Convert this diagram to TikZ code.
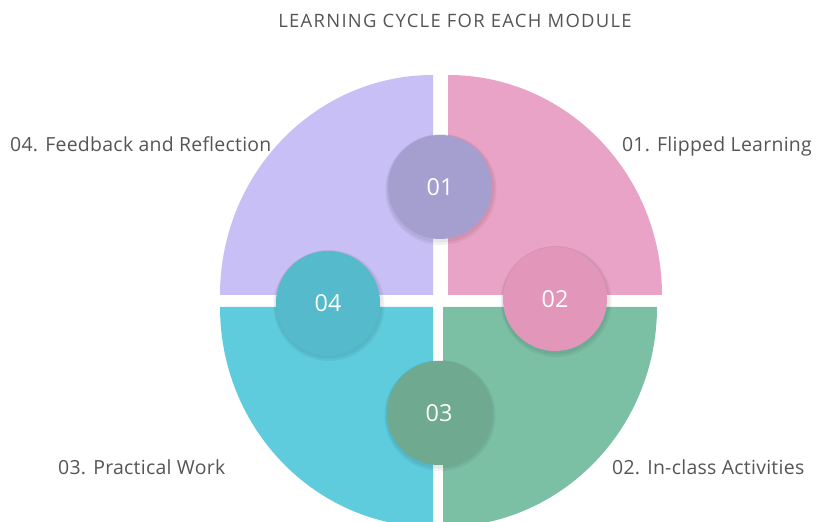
\documentclass[tikz,border=0pt]{standalone}
\usepackage{fontspec}
\setmainfont{Open Sans}
\definecolor{cpurple}{HTML}{C7BFF5}
\definecolor{cpink}{HTML}{E9A3C6}
\definecolor{ccyan}{HTML}{5ECCDD}
\definecolor{cgreen}{HTML}{7BBFA5}
\definecolor{dpurple}{HTML}{A59FD0}
\definecolor{dpink}{HTML}{E196BA}
\definecolor{dcyan}{HTML}{55BACB}
\definecolor{dgreen}{HTML}{6EA990}
\definecolor{txt}{HTML}{555555}
\begin{document}
\begin{tikzpicture}[x=1bp,y=1bp,
  label/.style={text=txt,font=\fontsize{19.5}{22}\selectfont\addfontfeature{LetterSpace=1.5},inner sep=0pt},
  num/.style={circle,minimum size=104bp,inner sep=0pt,text=white,font=\fontsize{23.5}{28}\selectfont},
  shadowc/.style={fill=black,opacity=0.05}]
\useasboundingbox (0,0) rectangle (816,522);
\begin{scope}
\clip (0,0) rectangle (816,522);
\fill[cpurple] (433,227) -- (433,447) arc[start angle=90,end angle=180,x radius=213,y radius=220] -- cycle;
\fill[cpink] (448,227) -- (662,227) arc[start angle=0,end angle=90,x radius=214,y radius=220] -- cycle;
\fill[ccyan] (433,215) -- (220,215) arc[start angle=180,end angle=270,x radius=213,y radius=220] -- cycle;
\fill[cgreen] (443,215) -- (443,-5) arc[start angle=270,end angle=360,x radius=214,y radius=220] -- cycle;
\foreach \p in {(440,335),(555,223),(439,109),(328,219)}{
  \fill[shadowc] \p ++(1,-2.5) circle (55.5);
  \fill[shadowc] \p ++(0.5,-1.5) circle (54);
}
\end{scope}
\node[num,fill=dpurple] (n1) at (440,335) {01};
\node[num,fill=dpink] (n2) at (555,223) {02};
\node[num,fill=dgreen] (n3) at (439,109) {03};
\node[num,fill=dcyan] (n4) at (328,219) {04};
\node[text=txt,font=\fontsize{18.5}{20}\selectfont\addfontfeature{LetterSpace=7},anchor=base,inner sep=0pt] (title) at (455,494) {LEARNING CYCLE FOR EACH MODULE};
\node[label,anchor=base west] (l4) at (10,370) {04. Feedback and Reflection};
\node[label,anchor=base east] (l1) at (812,370) {01. Flipped Learning};
\node[label,anchor=base west] (l3) at (58,47) {03. Practical Work};
\node[label,anchor=base west] (l2) at (612,47) {02. In-class Activities};
\end{tikzpicture}
\end{document}
